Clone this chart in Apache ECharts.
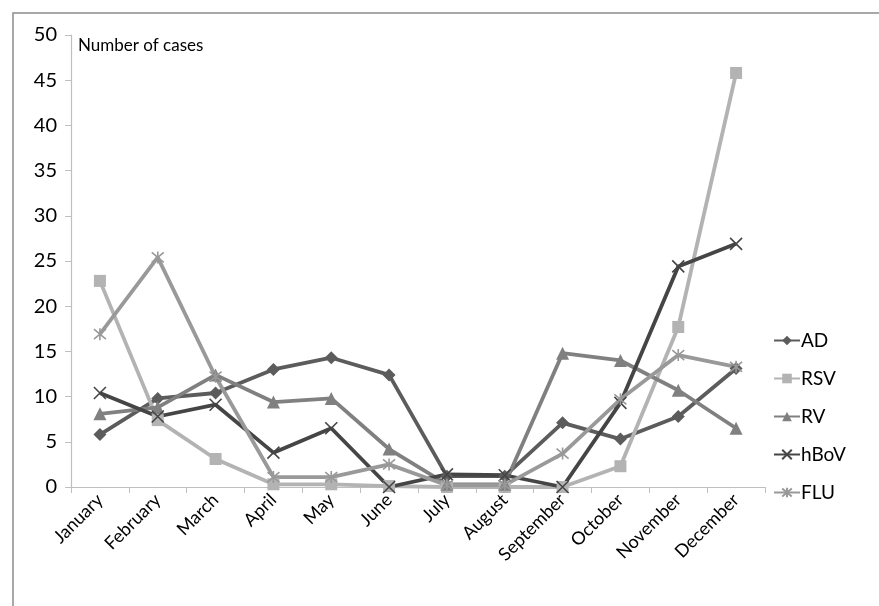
<!DOCTYPE html>
<html><head><meta charset="utf-8">
<script src="https://cdn.jsdelivr.net/npm/echarts@6/dist/echarts.min.js"></script>
<style>html,body{margin:0;padding:0;background:#fff}#c{width:879px;height:606px}</style>
</head><body><div id="c"></div>
<script>
var months = ['January','February','March','April','May','June','July','August','September','October','November','December'];
var AD   = [5.8, 9.8, 10.4, 13.0, 14.3, 12.4, 1.2, 1.2, 7.1, 5.3, 7.8, 13.1];
var RSV  = [22.8, 7.4, 3.1, 0.3, 0.3, 0.1, 0, 0, 0, 2.3, 17.7, 45.8];
var RV   = [8.1, 8.8, 12.4, 9.4, 9.8, 4.2, 0.3, 0.3, 14.8, 14.0, 10.7, 6.5];
var hBoV = [10.4, 7.8, 9.1, 3.8, 6.5, 0, 1.4, 1.3, 0, 9.3, 24.4, 26.9];
var FLU  = [16.9, 25.4, 12.2, 1.1, 1.1, 2.5, 0.2, 0.2, 3.7, 9.7, 14.6, 13.3];
var yTicks = [0, 50, 5];

var chart = echarts.init(document.getElementById('c'));
var FONT = 'Lato, "Open Sans", sans-serif';
function ser(name, data, color, symbol, size, stroke) {
  return {
    name: name, type: 'line', data: data, symbol: symbol, symbolSize: size,
    lineStyle: {color: color, width: 3.8},
    itemStyle: stroke ? {color: color, borderColor: color, borderWidth: 1.6} : {color: color},
    emphasis: {disabled: true}, animation: false
  };
}
chart.setOption({
  backgroundColor: '#fff',
  animation: false,
  graphic: [{type: 'rect', shape: {x: 13, y: 13, width: 900, height: 620}, style: {fill: 'none', stroke: '#8c8c8c', lineWidth: 1.5}, silent: true},
            {type: 'text', left: 78, top: 37, style: {text: 'Number of cases', font: '17px ' + FONT, fill: '#000'}}],
  grid: {left: 71, right: 114, top: 35, bottom: 119},
  legend: {
    orient: 'vertical', left: 768, top: 326, itemGap: 19, itemWidth: 26, itemHeight: 12,
    textStyle: {fontSize: 19, fontFamily: FONT, color: '#000', padding: [0,0,0,-4]},
    data: ['AD','RSV','RV','hBoV','FLU']
  },
  xAxis: {
    type: 'category', data: months, boundaryGap: true,
    axisLine: {lineStyle: {color: '#bfbfbf', width: 1.2}},
    axisTick: {show: true, length: 6, lineStyle: {color: '#bfbfbf'}},
    axisLabel: {rotate: 45, fontSize: 18, fontFamily: FONT, color: '#000', margin: 10}
  },
  yAxis: {
    type: 'value', min: yTicks[0], max: yTicks[1], interval: yTicks[2],
    splitLine: {show: false},
    axisLine: {show: true, lineStyle: {color: '#bfbfbf', width: 1.2}},
    axisTick: {show: true, length: 6, lineStyle: {color: '#bfbfbf'}},
    axisLabel: {fontSize: 20, fontFamily: FONT, color: '#000', margin: 14}
  },
  series: [
    ser('AD', AD, '#5c5c5c', 'diamond', 13),
    ser('RSV', RSV, '#b3b3b3', 'rect', 12),
    ser('RV', RV, '#808080', 'triangle', 13),
    ser('hBoV', hBoV, '#454545', 'path://M0,0L10,10M10,0L0,10', 12, true),
    ser('FLU', FLU, '#999999', 'path://M0,0L10,10M10,0L0,10M5,-1L5,11', 12, true)
  ]
});
</script></body></html>
